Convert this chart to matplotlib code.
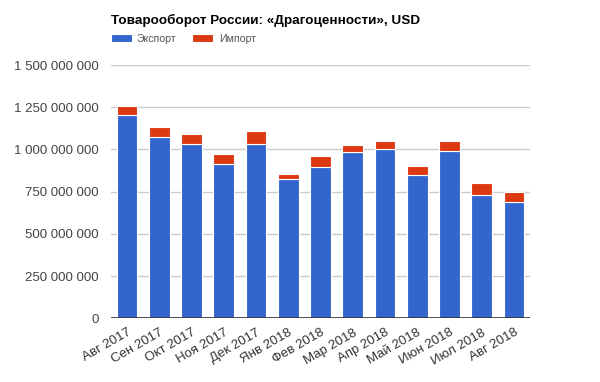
import numpy as np
import matplotlib
matplotlib.use('Agg')
import matplotlib.pyplot as plt
from matplotlib.ticker import FuncFormatter, MultipleLocator

plt.rcParams['font.family'] = ['Liberation Sans', 'DejaVu Sans']

months = ['Авг 2017', 'Сен 2017', 'Окт 2017', 'Ноя 2017', 'Дек 2017', 'Янв 2018',
          'Фев 2018', 'Мар 2018', 'Апр 2018', 'Май 2018', 'Июн 2018', 'Июл 2018', 'Авг 2018']
# millions USD
export = [1205, 1075, 1035, 912, 1030, 825, 898, 986, 1005, 850, 992, 730, 686]
imports = [51, 56, 54, 60, 77, 32, 62, 41, 46, 50, 59, 71, 62]

blue = '#3366cc'
red = '#dc3912'

export_v = np.array(export) * 1e6
import_v = np.array(imports) * 1e6
x = np.arange(len(months))

fig = plt.figure(figsize=(6, 3.82), dpi=100)
ax = fig.add_axes([111/600, 1 - 318.3/382, (530 - 111)/600, (318.3 - 65)/382])

b1 = ax.bar(x, export_v, width=0.64, color=blue, edgecolor='white', linewidth=0.8, label='Экспорт', zorder=3)
b2 = ax.bar(x, import_v, width=0.64, bottom=export_v, color=red, edgecolor='white', linewidth=0.8,
            label='Импорт', zorder=3)

ax.set_xlim(-0.5, len(months) - 0.5)
ax.set_ylim(0, 1.5e9)
ax.yaxis.set_major_locator(MultipleLocator(250e6))
ax.yaxis.set_major_formatter(FuncFormatter(lambda v, p: '{:,.0f}'.format(v).replace(',', ' ')))
ax.grid(axis='y', color='#cccccc', linewidth=1, zorder=0)
ax.axhline(0, color='#333333', linewidth=1.2, zorder=4)

for s in ax.spines.values():
    s.set_visible(False)
ax.tick_params(length=0, labelsize=9.5, labelcolor='#444444')
ax.tick_params(axis='y', pad=9)
ax.set_xticks(x)
ax.set_xticklabels(months, rotation=30, ha='right', rotation_mode='anchor')
ax.tick_params(axis='x', pad=6, labelcolor='#333333')

fig.text(111/600, 1 - 20/382, 'Товарооборот России: «Драгоценности», USD',
         fontsize=9.7, fontweight='bold', va='center', ha='left', color='#000000')
fig.legend(handles=[b1, b2], loc='center left', bbox_to_anchor=(101/600, 1 - 39/382), ncol=2,
           frameon=False, fontsize=7.6, handlelength=2.0, handleheight=0.75, handletextpad=0.5,
           columnspacing=1.5, labelcolor='#555555')

plt.savefig('out.png', dpi=100)
